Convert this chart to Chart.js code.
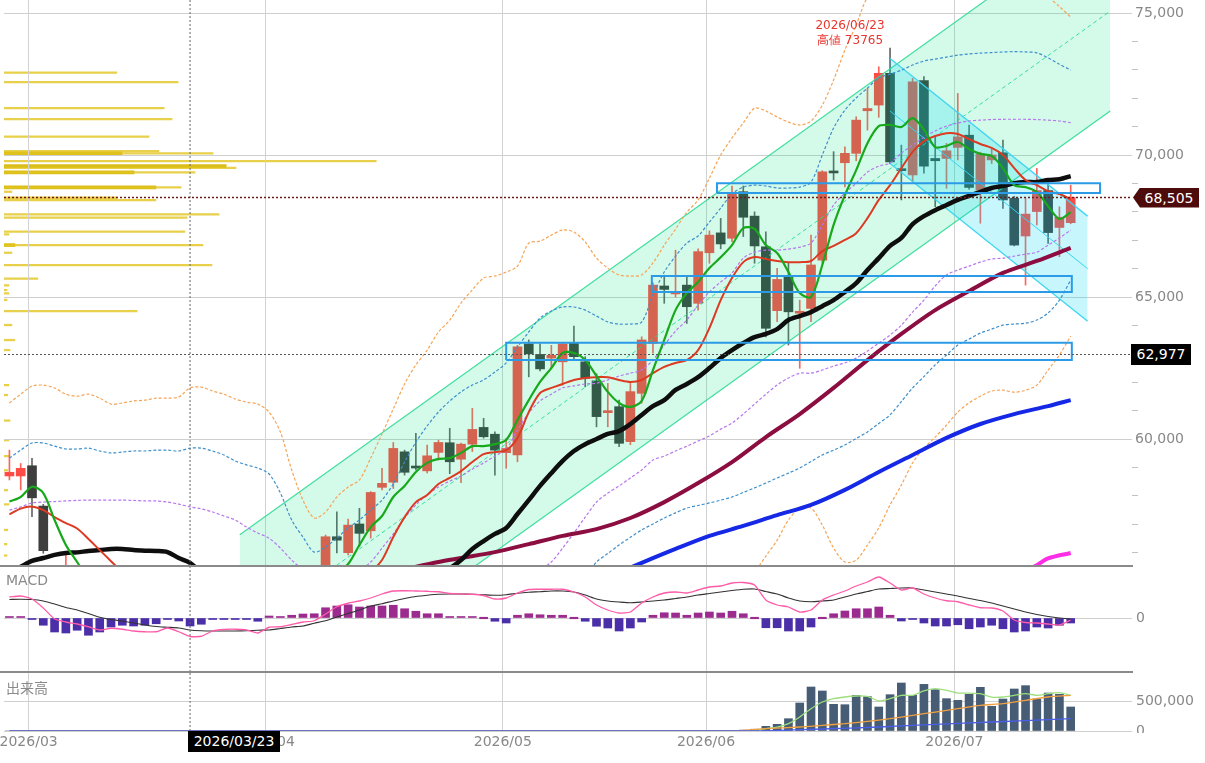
<!DOCTYPE html>
<html><head><meta charset="utf-8">
<script src="https://cdn.jsdelivr.net/npm/chart.js@4.4.1/dist/chart.umd.min.js"></script>
<style>
html,body{margin:0;padding:0;background:#fff;}
#wrap{position:relative;width:1205px;height:763px;overflow:hidden;font-family:"DejaVu Sans",sans-serif;}
canvas{position:absolute;left:0;}
.sep{position:absolute;left:0;width:1133px;height:2px;background:#8a8a8a;}
.lbl{position:absolute;color:#8a8a8a;font-size:14px;line-height:16px;white-space:nowrap;}
.tag{position:absolute;color:#fff;font-size:14px;text-align:center;white-space:nowrap;}
#hiNote{position:absolute;width:110px;text-align:center;color:#e8352d;font-size:12px;line-height:15px;white-space:nowrap;}
#volZeroMask{position:absolute;left:1133px;top:733px;width:72px;height:30px;background:#fff;}
</style></head><body>
<div id="wrap">
<canvas id="vp" width="1205" height="566" style="top:0;width:1205px;height:566px"></canvas>
<canvas id="main" width="1205" height="566" style="top:0;width:1205px;height:566px"></canvas>
<canvas id="macd" width="1205" height="105" style="top:567px;width:1205px;height:105px"></canvas>
<canvas id="vol" width="1205" height="91" style="top:672px;width:1205px;height:91px"></canvas>
<div id="volZeroMask"></div>
<div class="sep" style="top:565px"></div>
<div class="sep" style="top:671px"></div>
<div class="lbl" style="left:6px;top:572px">MACD</div>
<div class="lbl" style="left:6px;top:679px;font-family:'Noto Sans CJK JP',sans-serif">出来高</div>
<div id="hiNote"></div>
<div id="tagLast" class="tag"></div>
<div id="tagCross" class="tag"></div>
<div id="tagDate" class="tag"></div>
</div>
<script>
// ---------------- data ----------------
const dates = ['2026/02/26','2026/02/27','2026/03/02','2026/03/03','2026/03/04','2026/03/05','2026/03/06','2026/03/09','2026/03/10','2026/03/11',
'2026/03/12','2026/03/13','2026/03/16','2026/03/17','2026/03/18','2026/03/19','2026/03/23','2026/03/24','2026/03/25','2026/03/26',
'2026/03/27','2026/03/30','2026/03/31','2026/04/01','2026/04/02','2026/04/03','2026/04/06','2026/04/07','2026/04/08','2026/04/09',
'2026/04/10','2026/04/13','2026/04/14','2026/04/15','2026/04/16','2026/04/17','2026/04/20','2026/04/21','2026/04/22','2026/04/23',
'2026/04/24','2026/04/27','2026/04/28','2026/04/30','2026/05/01','2026/05/07','2026/05/08','2026/05/11','2026/05/12','2026/05/13',
'2026/05/14','2026/05/15','2026/05/18','2026/05/19','2026/05/20','2026/05/21','2026/05/22','2026/05/25','2026/05/26','2026/05/27',
'2026/05/28','2026/05/29','2026/06/01','2026/06/02','2026/06/03','2026/06/04','2026/06/05','2026/06/08','2026/06/09','2026/06/10',
'2026/06/11','2026/06/12','2026/06/15','2026/06/16','2026/06/17','2026/06/18','2026/06/19','2026/06/22','2026/06/23','2026/06/24',
'2026/06/25','2026/06/26','2026/06/29','2026/06/30','2026/07/01','2026/07/02','2026/07/03','2026/07/06','2026/07/07','2026/07/08',
'2026/07/09','2026/07/10','2026/07/13','2026/07/14','2026/07/15'];

const open = [58700,58700,59060,57640,55400,54500,55200,54400,53900,53300,
53800,53400,53000,53500,53200,53700,53000,52300,52700,53200,
52900,53400,53600,53100,53800,54300,54700,55000,55200,56560,
56000,57010,56770,58300,58480,59550,59020,58880,59530,59870,
59290,59820,60410,60170,59520,59440,63350,62980,62850,62720,
63390,62720,62050,60930,61140,59910,61610,63370,65390,65110,
65420,64780,66560,67260,67070,68710,67850,66770,64520,65720,
64430,64600,66300,69410,69730,70060,71560,71760,72880,69500,
69300,72620,69880,69880,70270,70700,68770,69830,70080,68480,
67150,68010,68750,67450,67620];
const high = [59610,59140,59320,57700,55500,56000,55450,54800,54100,54000,
54100,53700,53800,53900,54000,53900,53200,53000,53400,53500,
53700,53900,53800,54000,54500,55000,55300,55400,56620,57440,
57180,57560,58150,58970,59880,59610,60200,59790,59960,60380,
59860,61080,60730,60250,60030,63300,63490,63350,63300,63400,
63980,62900,62300,61960,61370,61960,63600,65500,65770,66650,
65720,66700,67330,67770,68910,68910,68000,67300,66010,66190,
64890,67180,69450,70120,70290,71350,72350,73110,73765,70350,
72700,72760,70640,70410,72170,71060,70100,70250,70530,68550,
68480,69530,69120,68180,68940];
const low = [58560,58210,57270,55980,54300,54200,54100,53600,53000,53100,
53200,52800,52800,53000,53000,52700,52000,52000,52500,52600,
52700,53200,52800,53000,53600,54100,54500,54500,55000,55990,
55920,56210,56510,58210,58260,58730,58910,58810,59260,58780,
58460,59560,60030,58730,58970,59200,62190,62400,62500,61900,
62800,61840,60430,60430,59730,59800,61260,63020,64780,65000,
64070,64540,66190,66700,66950,67130,66190,63600,64130,63310,
62490,64130,66200,69120,68880,69800,70880,71330,69700,68420,
69060,69360,68180,68830,69830,68800,67600,69700,68120,66800,
65420,67540,66890,66420,67580];
const close = [58830,58970,57930,56070,54600,55300,54400,53900,53300,53800,
53400,53000,53500,53200,53700,53000,52300,52700,53200,52900,
53400,53600,53100,53800,54300,54700,55000,54800,56560,56440,
56970,56680,58120,58440,59670,58830,58980,59410,59880,59200,
59820,60340,60080,59610,59670,63250,63000,62470,62950,63350,
62900,62140,60790,61000,59850,61670,63490,65420,65270,65170,
64660,66600,67180,66870,68650,67810,66800,63900,65620,64480,
64480,66130,69410,69370,70060,71230,71640,72880,69760,69450,
72580,69610,69800,70150,70640,68860,70040,70000,68420,66830,
67920,68750,67270,67810,68505];

const ma5 = [57800,57960,58320,58100,57150,56270,55670,55000,54300,53900,
53700,53500,53400,53300,53400,53300,53000,52800,52800,52800,
52900,53200,53200,53400,53800,54100,54500,54700,55000,55300,
55600,56270,56900,57290,57960,58350,58840,59160,59300,59330,
59510,59750,59750,59820,59970,60670,61370,62010,62500,63030,
63030,62780,62220,61660,61270,61130,61340,62430,63490,64540,
65140,65530,66020,66400,66830,67430,67400,66830,66550,65880,
65140,65000,66130,67540,68590,69470,70420,71020,71060,70990,
71300,70900,70280,70320,70460,70210,70040,69970,69540,68940,
68870,68700,68200,67750,67990];
const ma13 = [57350,57550,57620,57500,57250,57040,56850,56480,56090,55700,
55300,54900,54600,54300,54100,53900,53700,53500,53400,53300,
53200,53200,53200,53300,53400,53600,53800,54100,54400,54700,
55000,55200,55350,55740,56550,57250,57780,58030,58420,58630,
58870,59190,59470,59540,59610,60040,60950,61620,61800,61940,
62080,62150,62180,62180,62080,62010,62080,62320,62540,62680,
62780,63130,63910,64890,65670,66230,66410,66340,66270,66230,
66230,66270,66620,66800,67010,67250,67780,68420,68940,69540,
70110,70490,70670,70770,70740,70560,70390,70250,70000,69540,
69120,68940,68730,68630,68450];
const ma25 = [55300,55500,55710,55810,55920,55990,56010,56060,56090,56130,
56130,56090,56070,56060,56020,55810,55640,55300,55000,54750,
54550,54400,54250,54100,54000,53950,53900,53880,53860,53850,
53900,54000,54150,54350,54550,54750,55000,55150,55300,55450,
55740,56130,56410,56660,56870,57360,57850,58350,58800,59230,
59580,59820,60000,60180,60280,60530,60850,61160,61370,61730,
61940,62180,62500,62850,63130,63380,63590,63700,63870,64190,
64330,64470,64680,64890,65180,65490,65950,66370,66800,67080,
67570,67850,68060,68240,68420,68560,68700,68840,68910,69010,
69050,69050,69120,69150,69260];
// long averages read at selected dates
const ma75 = [['2026/04/17',55420],['2026/04/22',55670],['2026/04/24',55810],['2026/04/30',56020],['2026/05/08',56300],
['2026/05/13',56590],['2026/05/18',56830],['2026/05/21',57220],['2026/05/26',57780],['2026/05/29',58450],['2026/06/03',59190],
['2026/06/08',60070],['2026/06/11',60880],['2026/06/16',61800],['2026/06/19',62780],['2026/06/24',63700],['2026/06/29',64540],
['2026/07/02',65210],['2026/07/07',65850],['2026/07/10',66270],['2026/07/15',66730]];
const ma200 = [['2026/05/20',55300],['2026/05/22',55640],['2026/05/27',56130],['2026/06/01',56590],['2026/06/04',56940],
['2026/06/09',57320],['2026/06/12',57680],['2026/06/17',58210],['2026/06/22',58840],['2026/06/25',59440],['2026/06/30',60040],
['2026/07/03',60530],['2026/07/08',60880],['2026/07/13',61160],['2026/07/15',61370]];
const ma300 = [['2026/07/09',55350],['2026/07/10',55560],['2026/07/13',55800],['2026/07/15',55990]];

const bbUp3 = [61270,61580,61860,61900,61800,61580,61510,61580,61440,61230,
61270,61340,61370,61440,61440,61480,61800,61830,61690,61580,
61410,61300,61230,60950,60250,58910,57850,57220,57430,57960,
58310,58560,59330,60180,61060,61940,62610,63130,63770,64190,
64790,65250,65670,65740,65880,66090,66900,66970,67180,67360,
67290,66940,66370,66020,65780,65740,65780,66200,66830,67390,
67990,68420,69190,70000,70600,71130,71650,71550,71340,71160,
71060,71200,71760,72640,73700,74580,75560,75880,75880,75950,
75970,76040,76040,76060,76070,76060,76040,76000,75990,75960,
75920,75880,75570,75230,74860];
const bbUp2 = [59330,59610,59860,59860,59750,59650,59650,59680,59580,59510,
59540,59580,59580,59610,59610,59580,59680,59680,59580,59440,
59230,59090,58980,58770,58100,57150,56550,56020,56200,56510,
56870,57150,57500,57850,58420,59190,59890,60460,60950,61340,
61660,61900,62080,62360,62680,63240,63770,64260,64510,64650,
64650,64540,64330,64120,64050,64050,64120,65070,65880,66440,
66900,67150,67640,68130,68630,68870,68940,68910,68840,68840,
68870,69050,70000,70950,71580,72010,72360,72710,72850,72990,
73170,73310,73380,73450,73520,73560,73590,73610,73630,73640,
73630,73600,73420,73200,72990];
const bbUp1 = [57500,57610,57750,57780,57800,57820,57840,57850,57850,57850,
57850,57840,57820,57820,57780,57710,57610,57540,57430,57290,
57150,56900,56690,56510,56160,55740,55390,55100,55000,55100,
55350,55390,55670,56160,56660,57220,57680,58030,58310,58520,
58700,58940,59160,59400,59650,60320,60920,61340,61580,61800,
61870,61940,61970,62080,62220,62320,62430,62780,63310,63800,
64190,64720,65180,65530,65850,66370,66580,66650,66650,66690,
66760,66900,67540,68240,68660,69010,69400,69610,69720,70070,
70350,70630,70850,71020,71130,71200,71230,71250,71260,71260,
71260,71250,71230,71200,71140];
const bbLo1 = [53100,53400,53670,53850,54050,54160,54180,54270,54330,54410,
54410,54340,54320,54300,54260,53910,53670,53060,52570,52210,
51950,51900,51810,51690,51840,52160,52410,52660,52720,52600,
52450,52610,52630,52540,52440,52280,52320,52270,52290,52380,
52780,53320,53660,53920,54090,54400,54780,55360,55670,56160,
56690,57250,57780,58100,58350,58630,58910,59260,59400,59580,
59750,59930,60110,60350,60560,60880,61230,61580,61900,62150,
62320,62320,62430,62570,62680,62850,63100,63380,63660,64010,
64470,64890,65390,65780,65950,66090,66230,66340,66370,66440,
66510,66580,66830,67080,67360];
const bbLo2 = [51300,51400,51560,51760,52090,52330,52370,52440,52600,52750,
52720,52600,52560,52510,52430,52040,51600,50920,50420,50060,
49870,49710,49520,49430,49900,50750,51250,51740,51520,51190,
50830,50550,50300,50150,49880,49510,49210,48840,48650,48560,
49820,50360,50740,50960,51060,51480,51930,52440,53090,53810,
54510,55100,55670,55970,56270,56540,56800,57010,57220,57400,
57570,57660,57750,57850,57960,58120,58280,58450,58630,58800,
58980,59210,59440,59610,59790,60020,60250,60550,60850,61320,
61800,62200,62610,62960,63310,63520,63730,63870,64010,64050,
64080,64190,64440,64890,65600];
const bbLo3 = [49200,49300,49500,49700,50100,50400,50500,50600,50800,51000,
51000,50900,50800,50700,50600,50200,49500,48800,48300,47900,
47700,47500,47300,47200,47900,49000,50000,50700,50300,49700,
49100,48500,48000,47600,47300,46800,46400,46000,45700,45600,
46700,47000,47200,47600,47900,48600,48800,49400,50400,51100,
51900,52700,53600,54300,54800,55000,55300,55100,54600,54400,
54100,54400,54200,54200,54400,54800,55300,55880,56440,57150,
57570,57570,56970,56160,55670,55740,56270,56870,57680,58380,
59160,59680,60070,60490,60950,61270,61510,61690,61720,61650,
61720,61900,62430,62960,63630];

const macdLine = [840,880,760,400,-40,-160,-240,-350,-480,-410,
-450,-520,-550,-550,-400,-550,-740,-730,-520,-460,
-450,-480,-600,-370,-350,-260,-160,-110,160,450,
590,680,800,960,1080,1090,1080,1070,1050,980,
960,950,900,760,800,1000,1140,1150,1150,1150,
1040,840,520,320,200,240,600,840,1000,1040,
1000,1120,1240,1280,1400,1420,1320,720,520,440,
240,320,720,920,1080,1280,1440,1640,1400,1120,
1200,960,800,690,650,520,410,400,280,-80,
-180,-200,-240,-280,-80];
const macdSignal = [740,750,740,680,560,420,320,180,30,-60,
-120,-200,-280,-340,-370,-400,-480,-510,-520,-520,
-520,-510,-490,-480,-420,-360,-320,-210,-110,40,
180,320,480,570,680,780,860,910,950,960,
960,950,930,910,930,990,1030,1050,1080,1080,
1040,920,760,680,640,610,640,680,720,780,
840,920,980,1040,1100,1150,1160,1060,960,800,
680,650,680,720,840,960,1060,1160,1180,1200,
1200,1120,1040,960,880,780,700,600,480,360,
240,140,60,0,-40];
const macdHist = [30,30,-10,-290,-560,-600,-490,-690,-560,-360,
-290,-320,-290,-230,-40,-120,-320,-250,-40,-30,
-20,-20,-130,80,40,110,160,170,410,480,
530,440,480,480,510,370,270,170,170,40,
20,20,0,-130,-200,110,170,130,110,110,
0,-130,-330,-400,-520,-400,-160,110,210,200,
110,200,240,200,270,170,0,-390,-390,-520,
-520,-360,0,170,280,370,370,440,110,-120,
-40,-200,-320,-320,-270,-430,-360,-290,-430,-560,
-520,-360,-400,-290,-200];

const volume = [0,0,0,0,0,0,0,0,0,0,
0,0,0,0,0,0,0,0,0,0,
0,0,0,0,0,0,0,0,0,0,
0,0,0,0,0,0,0,0,0,0,
0,0,0,0,0,8000,0,0,0,0,
0,0,0,0,0,0,0,0,0,0,
0,0,0,0,0,15000,30000,80000,114000,210000,
478000,751000,683000,455000,449000,609000,586000,410000,620000,819000,
609000,796000,705000,552000,523000,626000,745000,421000,546000,717000,
774000,546000,648000,626000,410000];
const volMa5 = [0,0,0,0,0,0,0,0,0,0,
0,0,0,0,0,0,0,0,0,0,
0,0,0,0,0,0,0,0,0,0,
0,0,0,0,0,0,0,0,0,0,
0,0,0,0,0,0,0,0,0,0,
0,0,0,0,0,0,0,0,0,0,
0,0,0,0,0,3000,9000,40000,68000,125000,
239000,381000,495000,552000,580000,597000,592000,512000,552000,609000,
609000,683000,722000,694000,648000,648000,637000,580000,580000,609000,
637000,609000,637000,654000,609000];
const volMa25 = [['2026/02/26',0],['2026/06/03',0],['2026/06/08',40000],['2026/06/11',68000],['2026/06/15',97000],
['2026/06/17',125000],['2026/06/19',165000],['2026/06/23',210000],['2026/06/25',267000],['2026/06/29',324000],
['2026/07/01',381000],['2026/07/03',438000],['2026/07/07',466000],['2026/07/09',523000],['2026/07/13',580000],['2026/07/15',609000]];
const volMa75 = [['2026/02/26',0],['2026/06/05',0],['2026/06/08',3000],['2026/06/15',34000],['2026/06/22',68000],
['2026/06/29',114000],['2026/07/06',154000],['2026/07/13',193000],['2026/07/15',210000]];

// price-by-volume profile
const vpPrice = [72900,72570,71655,71268,70645,70141,70060,69789,69553,69391,68863,68708,68497,68416,67912,67793,67300,67208,
66831,66560,66127,65645,65412,65247,65130,64900,64507,64015,63486,63134,61900,61550,60650,59960,59400,58900,58200,57700,56800,56300,55900];
const vpVolume = [300000,463000,426000,447000,386000,412000,556000,990000,617000,508000,471000,21000,300000,404000,572000,487000,481000,13000,
529000,21000,553000,90000,13000,8000,13000,8000,354000,21000,29000,16000,13000,10000,16000,13000,13000,10000,10000,13000,10000,8000,8000];
const vpThickPrice = [70060,69613,69391,68863,66831];
const vpThickVolume = [314000,591000,346000,404000,29000];

// trend channels (positions on the trading-day axis, prices at both ends)
const chanX = [20.4, 97.5], chanUpper = [56630, 78590], chanMid = [53110, 75070], chanLower = [49590, 71550];
const downX = [78, 95.5], downUpper = [73400, 67850], downMid = [71550, 66000], downLower = [69700, 64150];
// support / resistance zones
const zoneFrom = [62.67, 56.9, 44.0], zoneTo = [96.6, 94.1, 94.1];
const zoneLow = [68660, 65180, 62780], zoneHigh = [69010, 65740, 63390];

const lastPrice = 68505, crossPrice = 62977, crossDate = '2026/03/23';
const highDate = '2026/06/23', highValue = 73765;
const priceTicks = [56000,57000,58000,59000,60000,61000,62000,63000,64000,65000,66000,67000,68000,69000,70000,71000,72000,73000,74000,75000];
const priceLabelStep = 5000;
const macdTicks = [0];
const volTicks = [0, 500000];

// ---------------- helpers ----------------
const X_MIN = -0.48, X_MAX = 99.43, Y_MIN = 55530, Y_MAX = 75460;
Chart.defaults.font.family = "'DejaVu Sans', sans-serif";
Chart.defaults.font.size = 14;
Chart.defaults.color = '#888';
const fmt = v => String(v).replace(/\B(?=(\d{3})+(?!\d))/g, ',');
const idx = dates.map((_, i) => i);
const pts = arr => arr.map((v, i) => v == null ? null : {x: i, y: v}).filter(Boolean);
const pairPts = pairs => pairs.map(([d, v]) => ({x: dates.indexOf(d), y: v}));
const seg = (xs, ys) => xs.map((x, k) => ({x, y: ys[k]}));
const crossI = dates.indexOf(crossDate);
const monthTicks = [];
dates.forEach((d, i) => { if (i > 0 && d.slice(0, 7) !== dates[i - 1].slice(0, 7)) monthTicks.push({value: i - 0.3, label: d.slice(0, 7)}); });

function line(data, color, width, extra) {
  return Object.assign({type: 'line', data, borderColor: color, borderWidth: width, pointRadius: 0,
    pointHoverRadius: 0, fill: false, tension: 0.3, spanGaps: true}, extra || {});
}
function xCfg(show) {
  return {
    type: 'linear', min: X_MIN, max: X_MAX, offset: false,
    grid: {color: '#d2d2d2', drawTicks: false, offset: false},
    border: {display: false},
    afterBuildTicks: s => { s.ticks = monthTicks.map(t => ({value: t.value})); },
    afterFit: s => { s.height = show ? 32 : 0; s.paddingLeft = 0; s.paddingRight = 0; },
    ticks: {display: show, autoSkip: false, maxRotation: 0, padding: 3, color: '#888',
      callback: v => { const t = monthTicks.find(m => Math.abs(m.value - v) < 1e-6); return t ? t.label : ''; }}
  };
}
function yFit(s) { s.width = 73; s.paddingTop = 0; s.paddingBottom = 0; }
const baseOpts = {responsive: false, animation: false, devicePixelRatio: 1, events: [],
  plugins: {legend: {display: false}, tooltip: {enabled: false}}};

// ---------------- volume profile ----------------
new Chart(document.getElementById('vp'), {
  type: 'bar',
  data: {datasets: [
    {data: vpPrice.map((p, k) => ({x: vpVolume[k], y: p})), backgroundColor: 'rgba(226,196,30,0.8)', barThickness: 1.6, stack: 'vp'},
    {data: vpThickPrice.map((p, k) => ({x: vpThickVolume[k], y: p})), backgroundColor: 'rgba(214,182,0,0.9)', barThickness: 3, stack: 'vp'}
  ]},
  options: Object.assign({}, baseOpts, {
    indexAxis: 'y',
    layout: {padding: {left: 4, right: 73}},
    scales: {
      x: {type: 'linear', display: false, min: 0, max: 3000000, stacked: false},
      y: {type: 'linear', display: false, min: Y_MIN, max: Y_MAX, offset: false}
    }
  })
});

// ---------------- main price chart ----------------
const isUp = idx.map(i => close[i] >= open[i]);
const mainSets = [
  {type: 'bar', data: idx.map(i => ({x: i, y: [low[i], high[i]]})),
   backgroundColor: idx.map(i => isUp[i] ? 'rgba(255,72,62,0.85)' : 'rgba(62,62,62,0.8)'),
   grouped: false, categoryPercentage: 1, barPercentage: 1, maxBarThickness: 1, order: 100},
  {type: 'bar', data: idx.map(i => ({x: i, y: [open[i], close[i]]})),
   backgroundColor: idx.map(i => isUp[i] ? '#ff4b45' : '#3e3e3e'),
   grouped: false, categoryPercentage: 1, barPercentage: 1, maxBarThickness: 9, minBarLength: 2, order: 99},
  line(seg(chanX, chanUpper), 'rgba(45,220,150,0.9)', 1.2, {fill: '+1', backgroundColor: 'rgba(0,228,130,0.17)', tension: 0, order: 90}),
  line(seg(chanX, chanLower), 'rgba(45,220,150,0.9)', 1.2, {tension: 0, order: 90}),
  line(seg(chanX, chanMid), 'rgba(45,220,150,0.9)', 1, {tension: 0, borderDash: [4, 3], order: 90}),
  line(seg(downX, downUpper), 'rgba(60,212,238,0.95)', 1.3, {fill: '+1', backgroundColor: 'rgba(0,214,240,0.22)', tension: 0, order: 89}),
  line(seg(downX, downLower), 'rgba(60,212,238,0.95)', 1.3, {tension: 0, order: 89}),
  line(seg(downX, downMid), 'rgba(60,212,238,0.95)', 1, {tension: 0, order: 89}),
  line(pts(bbUp3), '#f5a456', 1.2, {borderDash: [3, 2], order: 60}),
  line(pts(bbLo3), '#f5a456', 1.2, {borderDash: [3, 2], order: 60}),
  line(pts(bbUp2), '#3d8fcc', 1.2, {borderDash: [3, 2], order: 60}),
  line(pts(bbLo2), '#3d8fcc', 1.2, {borderDash: [3, 2], order: 60}),
  line(pts(bbUp1), '#b676ee', 1.2, {borderDash: [3, 2], order: 60}),
  line(pts(bbLo1), '#b676ee', 1.2, {borderDash: [3, 2], order: 60}),
  line(pairPts(ma200), '#1428e6', 4, {order: 31}),
  line(pairPts(ma300), '#ff2ee6', 4, {order: 31}),
  line(pairPts(ma75), '#8c0d40', 4, {order: 30}),
  line(pts(ma25), '#0e0e0e', 4.5, {order: 29}),
  line(pts(ma13), '#dc3a22', 2, {order: 28}),
  line(pts(ma5), '#18a81b', 2.2, {order: 27})
];
zoneLow.forEach((lo, k) => {
  const a = zoneFrom[k], b = zoneTo[k], hi = zoneHigh[k];
  mainSets.push(line([{x: a, y: lo}, {x: b, y: lo}, {x: b, y: hi}, {x: a, y: hi}, {x: a, y: lo}],
    '#2b9be8', 2, {tension: 0, spanGaps: false, order: 5}));
});
mainSets.push(line([{x: X_MIN, y: lastPrice}, {x: X_MAX, y: lastPrice}], '#6e1c1c', 1.5, {tension: 0, borderDash: [2, 2], order: 2}));
mainSets.push(line([{x: X_MIN, y: crossPrice}, {x: X_MAX, y: crossPrice}], '#555', 1, {tension: 0, borderDash: [2, 2], order: 2}));
mainSets.push(line([{x: crossI, y: Y_MIN}, {x: crossI, y: Y_MAX}], '#666', 1, {tension: 0, borderDash: [2, 2], order: 2}));

const isMajor = v => v % priceLabelStep === 0;
const mainChart = new Chart(document.getElementById('main'), {
  type: 'bar',
  data: {datasets: mainSets},
  options: Object.assign({}, baseOpts, {
    layout: {padding: {left: 4}},
    scales: {
      x: xCfg(false),
      y: {type: 'linear', position: 'right', min: Y_MIN, max: Y_MAX, beginAtZero: false,
        border: {display: false},
        afterBuildTicks: s => { s.ticks = priceTicks.map(v => ({value: v})); },
        grid: {tickLength: 6,
          color: c => (c.tick && isMajor(c.tick.value)) ? '#cfcfcf' : 'rgba(0,0,0,0)',
          tickColor: c => (c.tick && !isMajor(c.tick.value)) ? '#c2c2c2' : 'rgba(0,0,0,0)'},
        ticks: {autoSkip: false, padding: -3, color: '#888',
          callback: v => isMajor(v) ? fmt(v) : ''},
        afterFit: yFit}
    }
  })
});

// ---------------- MACD ----------------
new Chart(document.getElementById('macd'), {
  type: 'bar',
  data: {datasets: [
    line(pts(macdLine), '#ff5aa8', 1.3, {tension: 0.2, order: 2}),
    line(pts(macdSignal), '#333', 1.2, {tension: 0.2, order: 3}),
    {type: 'bar', data: pts(macdHist), backgroundColor: macdHist.map(v => v >= 0 ? '#9b2b8f' : '#4a2fa8'),
     grouped: false, categoryPercentage: 1, barPercentage: 1, maxBarThickness: 8, minBarLength: 1.5, order: 5},
    line([{x: crossI, y: -2160}, {x: crossI, y: 2040}], '#666', 1, {tension: 0, borderDash: [2, 2], order: 1})
  ]},
  options: Object.assign({}, baseOpts, {
    layout: {padding: {left: 4}},
    scales: {
      x: xCfg(false),
      y: {type: 'linear', position: 'right', min: -2160, max: 2040, beginAtZero: false,
        border: {display: false}, grid: {color: '#cfcfcf', drawTicks: false},
        afterBuildTicks: s => { s.ticks = macdTicks.map(v => ({value: v})); },
        ticks: {padding: 4, color: '#888', callback: v => fmt(v)}, afterFit: yFit}
    }
  })
});

// ---------------- volume ----------------
new Chart(document.getElementById('vol'), {
  type: 'bar',
  data: {datasets: [
    {type: 'bar', data: pts(volume), backgroundColor: '#475c75', grouped: false, categoryPercentage: 1,
     barPercentage: 1, maxBarThickness: 8, order: 5},
    line(pts(volMa5), '#9ddf7c', 1.3, {tension: 0.2, order: 3}),
    line(pairPts(volMa25), '#f0a040', 1.3, {tension: 0.2, order: 2.5}),
    line(pairPts(volMa75), '#4a5ee8', 1.3, {tension: 0.2, order: 2}),
    line([{x: crossI, y: 0}, {x: crossI, y: 990000}], '#666', 1, {tension: 0, borderDash: [2, 2], order: 1})
  ]},
  options: Object.assign({}, baseOpts, {
    layout: {padding: {left: 4, top: 1}},
    scales: {
      x: xCfg(true),
      y: {type: 'linear', position: 'right', min: 0, max: 990000, border: {display: false},
        grid: {color: '#cfcfcf', drawTicks: false},
        afterBuildTicks: s => { s.ticks = volTicks.map(v => ({value: v})); },
        ticks: {padding: 4, color: '#888', callback: v => fmt(v)}, afterFit: yFit}
    }
  })
});

// ---------------- text overlays ----------------
const mx = mainChart.scales.x, my = mainChart.scales.y;
const note = document.getElementById('hiNote');
const hx = mx.getPixelForValue(dates.indexOf(highDate)) - 40;
const hy = my.getPixelForValue(highValue);
note.innerHTML = highDate + '<br>高値 ' + highValue;
note.style.left = (hx - 55) + 'px';
note.style.top = (hy - 30) + 'px';

const tl = document.getElementById('tagLast');
tl.textContent = fmt(lastPrice);
Object.assign(tl.style, {left: '1133px', top: (my.getPixelForValue(lastPrice) - 10) + 'px', width: '60px', height: '20px',
  lineHeight: '20px', paddingLeft: '6px', background: '#4d0b0b',
  clipPath: 'polygon(7px 0,100% 0,100% 100%,7px 100%,0 50%)'});
const tc = document.getElementById('tagCross');
tc.textContent = fmt(crossPrice);
Object.assign(tc.style, {left: '1131px', top: (my.getPixelForValue(crossPrice) - 10.5) + 'px', width: '60px', height: '21px',
  lineHeight: '21px', background: '#000'});
const td = document.getElementById('tagDate');
td.textContent = crossDate;
Object.assign(td.style, {left: (mx.getPixelForValue(crossI) - 2) + 'px', top: '731px', width: '92px', height: '21px',
  lineHeight: '21px', background: '#000'});
</script>
</body></html>
